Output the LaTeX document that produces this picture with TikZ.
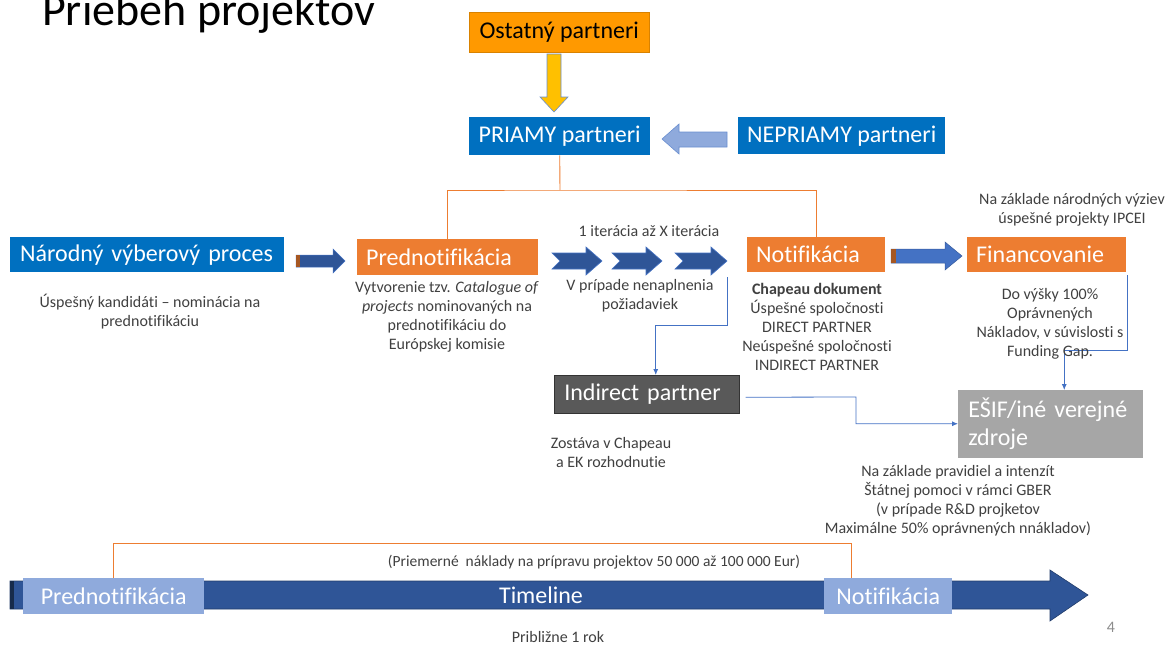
\documentclass[tikz,border=0pt]{standalone}
\usepackage{fontspec}
\setmainfont[Ligatures=NoCommon]{Carlito}
\usetikzlibrary{arrows.meta}
\definecolor{obox}{HTML}{ED7D31}
\definecolor{bbox}{HTML}{0070C0}
\definecolor{darrow}{HTML}{2F5597}
\definecolor{larrow}{HTML}{8FAADC}
\definecolor{conn}{HTML}{4472C4}
\definecolor{txt}{HTML}{404040}
\definecolor{yel}{HTML}{FFC000}
\definecolor{ost}{HTML}{FF9900}
\definecolor{dgray}{HTML}{595959}
\definecolor{lgray}{HTML}{A6A6A6}
\begin{document}
\begin{tikzpicture}[x=1pt,y=-1pt,
  bigtxt/.style={font=\fontsize{24}{28}\selectfont},
  lbox/.style={anchor=north west, inner xsep=9pt, inner ysep=0pt, align=left, text=white, bigtxt},
  cbox/.style={anchor=north west, inner sep=0pt, align=center, text=white, bigtxt},
  note/.style={text=txt, align=center, font=\fontsize{16}{19}\selectfont, inner sep=0pt},
  bconn/.style={draw=conn, line width=0.8pt, -{Latex[length=6pt,width=5pt]}},
  oconn/.style={draw=obox, line width=0.9pt},
  notched/.style={fill=darrow, draw=conn, line width=0.6pt}
]
\useasboundingbox (0,0) rectangle (1165,645);

% title
\node[anchor=base west, inner sep=0pt, text=black, font=\fontsize{46}{50}\selectfont] (title) at (42,25) {Priebeh projektov};

% top boxes
\node[cbox, fill=ost, draw=ost!85!black, line width=0.5pt, text=black, minimum width=180, minimum height=40] (ost) at (469,12) {Ostatný partneri};
\node[cbox, fill=bbox, minimum width=181, minimum height=38] (priamy) at (469,117) {PRIAMY partneri};
\node[cbox, fill=bbox, minimum width=207, minimum height=37] (nepriamy) at (738,117) {NEPRIAMY partneri};

% yellow down arrow
\draw[fill=yel, draw=conn!80, line width=0.6pt] (547,54) -- (561,54) -- (561,97) -- (568,97) -- (554,112) -- (540,97) -- (547,97) -- cycle;
% left arrow
\draw[fill=larrow, draw=conn!80, line width=0.6pt] (727,132) -- (679,132) -- (679,124) -- (662,139) -- (679,154) -- (679,147) -- (727,147) -- cycle;

% main row
\node[lbox, fill=bbox, text width=254, inner xsep=10pt, minimum height=35] (narodny) at (10,237) {Národný výberový proces};
\node[lbox, fill=obox, text width=163, minimum height=36] (pred) at (357,239) {Prednotifikácia};
\node[lbox, fill=obox, text width=120, minimum height=35] (notif) at (747,237) {Notifikácia};
\node[lbox, fill=obox, text width=141, minimum height=35] (fin) at (967,237) {Financovanie};

% orange connector
\draw[oconn] (priamy.south) -- (560,190) coordinate (ojoin);
\draw[oconn] (pred.north) |- (ojoin) -| (notif.north);

% arrow narodny -> pred
\draw[fill=darrow, draw=conn, line width=0.5pt] (296,255) -- (333,255) -- (333,249) -- (345,261) -- (333,273) -- (333,267) -- (296,267) -- cycle;
\fill[obox!70!black] (296,255) rectangle (300,267);

% notched arrows
\foreach \a/\b in {552/602, 612/662, 675/727} {
  \draw[notched] (\a,253) -- (\b-16,253) -- (\b-16,247) -- (\b,261) -- (\b-16,275) -- (\b-16,269) -- (\a,269) -- (\a+8,261) -- cycle;
}
\coordinate (itend) at (727,277);

% arrow notif -> fin
\draw[fill=conn, draw=conn!80!black, line width=0.5pt] (891,249) -- (945,249) -- (945,242) -- (962,256) -- (945,270) -- (945,263) -- (891,263) -- cycle;
\fill[obox!70!black] (891,249) rectangle (896,263);

% indirect & esif
\node[lbox, fill=dgray, draw=black!80, line width=0.5pt, text width=165, inner xsep=10pt, minimum height=38] (ind) at (554,375) {Indirect partner};
\node[lbox, fill=lgray, draw=black!35, line width=0.5pt, text width=164, inner xsep=10pt, minimum height=67] (esif) at (958,390) {EŠIF/iné verejné\\zdroje};

\draw[bconn] (itend) -- (727,325) -| ([xshift=9pt]ind.north);
\coordinate (finend) at (1127,275);
\draw[bconn] (finend) -- (1127,350) -| ([xshift=14pt]esif.north);
\draw[bconn] ([xshift=6pt,yshift=-3pt]ind.east) -- (856,397) |- (esif.west);

% notes
\node[note] (n1) at (150,312) {Úspešný kandidáti – nominácia na\\prednotifikáciu};
\node[note] (n2) at (447,317) {Vytvorenie tzv. \textit{Catalogue of}\\\textit{projects} nominovaných na\\prednotifikáciu do\\Európskej komisie};
\node[note] (n3) at (649,231) {1 iterácia až X iterácia};
\node[note] (n4) at (640,296) {V prípade nenaplnenia\\požiadaviek};
\node[note] (n5) at (817,327) {\textbf{Chapeau dokument}\\Úspešné spoločnosti\\DIRECT PARTNER\\Neúspešné spoločnosti\\INDIRECT PARTNER};
\node[note] (n6) at (1072,210) {Na základe národných výziev\\úspešné projekty IPCEI};
\node[note] (n7) at (1050,324) {Do výšky 100\%\\Oprávnených\\Nákladov, v súvislosti s\\Funding Gap.};
\node[note] (n8) at (611,452) {Zostáva v Chapeau\\a EK rozhodnutie};
\node[note] (n9) at (958,501) {Na základe pravidiel a intenzít\\Štátnej pomoci v rámci GBER\\(v prípade R\&D projketov\\Maximálne 50\% oprávnených nnákladov)};

% timeline
\draw[fill=darrow, draw=darrow!70!black, line width=0.6pt] (10,581) -- (1050,581) -- (1050,570) -- (1088,595) -- (1050,621) -- (1050,609) -- (10,609) -- cycle;
\fill[darrow!50!black] (10,581) rectangle (14,609);
\node[cbox, fill=larrow, minimum width=181, minimum height=36] (tpred) at (23,578) {Prednotifikácia};
\node[cbox, fill=larrow, minimum width=128, minimum height=36] (tnotif) at (824,578) {Notifikácia};
\node[text=white, inner sep=0pt, bigtxt] (tl) at (541,595) {Timeline};
\coordinate (bl) at (113,578);
\coordinate (br) at (851,578);
\draw[oconn] (bl) -- (113,543) -- (851,543) -- (br);
\node[note, font=\fontsize{15.5}{18}\selectfont] (cost) at (594,562) {(Priemerné~ náklady na prípravu projektov 50 000 až 100 000 Eur)};
\node[note] (rok) at (558,637) {Približne 1 rok};
\node[note, text=black!45] (page) at (1111,627) {4};
\end{tikzpicture}
\end{document}
